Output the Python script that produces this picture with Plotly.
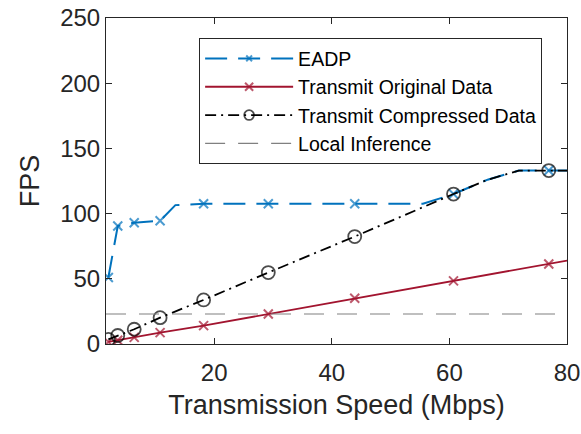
import plotly.graph_objects as go

# EADP (blue dashed, x markers at measured speeds)
eadp_x = [2.0, 3.6, 6.4, 10.8, 13.4, 18.2, 29.2, 43.9, 55.5, 60.7, 66.5, 71.8, 76.9, 80]
eadp_y = [51, 90.5, 93, 94.5, 106.5, 107.5, 107.5, 107.5, 107.5, 115, 126, 133, 133, 133]
eadp_mark = [1, 1, 1, 1, 0, 1, 1, 1, 0, 1, 0, 0, 1, 0]

# Transmit Original Data (red solid)
orig_x = [2.0, 3.6, 6.4, 10.8, 18.2, 29.2, 43.9, 60.7, 76.9, 80]
orig_y = [1.6, 2.9, 5.1, 8.7, 14.1, 23.0, 35.1, 48.4, 61.4, 64]
orig_mark = [1, 1, 1, 1, 1, 1, 1, 1, 1, 0]

# Transmit Compressed Data (black dash-dot, circles)
comp_x = [2.0, 3.6, 6.4, 10.8, 18.2, 29.2, 43.9, 60.7, 66.5, 71.8, 76.9, 80]
comp_y = [3.5, 6.5, 11.3, 20.2, 33.8, 54.8, 82.4, 115, 126, 133, 133, 133]
comp_mark = [1, 1, 1, 1, 1, 1, 1, 1, 0, 0, 1, 0]

# Local Inference (constant)
local_x = [1.6, 80]
local_y = [23, 23]

FONT = "Liberation Sans, Arial, Helvetica, sans-serif"
AX = "#262626"

fig = go.Figure()

fig.add_trace(go.Scatter(
    x=eadp_x, y=eadp_y, name="EADP", mode="lines+markers",
    line=dict(color="#0072BD", width=2, dash="22px,11px"),
    marker=dict(symbol="x-thin", size=[9 * m for m in eadp_mark],
                line=dict(color="#0072BD", width=2)),
))
fig.add_trace(go.Scatter(
    x=orig_x, y=orig_y, name="Transmit Original Data", mode="lines+markers",
    line=dict(color="#A2142F", width=1.8),
    marker=dict(symbol="x-thin", size=[9 * m for m in orig_mark],
                line=dict(color="#A2142F", width=2)),
))
fig.add_trace(go.Scatter(
    x=comp_x, y=comp_y, name="Transmit Compressed Data", mode="lines+markers",
    line=dict(color="black", width=1.8, dash="11px,5px,2px,5px"),
    marker=dict(symbol="circle-open", size=[13 * m for m in comp_mark],
                color="black", line=dict(color="black", width=1.8)),
))
fig.add_trace(go.Scatter(
    x=local_x, y=local_y, name="Local Inference", mode="lines",
    line=dict(color="#808080", width=1.2, dash="20px,13px"),
))

axis_common = dict(
    showline=True, linecolor=AX, linewidth=1, mirror="ticks",
    ticks="inside", ticklen=6, tickcolor=AX, tickwidth=1,
    showgrid=False, zeroline=False, automargin=False,
    ticklabeloverflow="allow",
    tickfont=dict(family=FONT, size=24, color=AX),
)

fig.update_xaxes(range=[1.6, 80], tickvals=[20, 40, 60, 80], ticklabelstandoff=7,
                 title=dict(text="Transmission Speed (Mbps)",
                            font=dict(family=FONT, size=27, color=AX), standoff=10),
                 **axis_common)
fig.update_yaxes(range=[0, 250], tickvals=[0, 50, 100, 150, 200, 250],
                 title=dict(text="FPS", font=dict(family=FONT, size=27, color=AX), standoff=12),
                 **axis_common)

fig.update_layout(
    width=581, height=434,
    margin=dict(l=106, r=14, t=18, b=90),
    paper_bgcolor="white", plot_bgcolor="white",
    font=dict(family=FONT, color=AX),
    legend=dict(x=0.202, y=0.938, xanchor="left", yanchor="top",
                bgcolor="white", bordercolor=AX, borderwidth=1,
                font=dict(family=FONT, size=19.5, color="black"),
                itemwidth=88, tracegroupgap=0),
    showlegend=True,
)

# drop the default page margin so the figure fills the window exactly
fig.write_html("out.html", config={"displayModeBar": False},
               post_script="document.body.style.margin='0';")
